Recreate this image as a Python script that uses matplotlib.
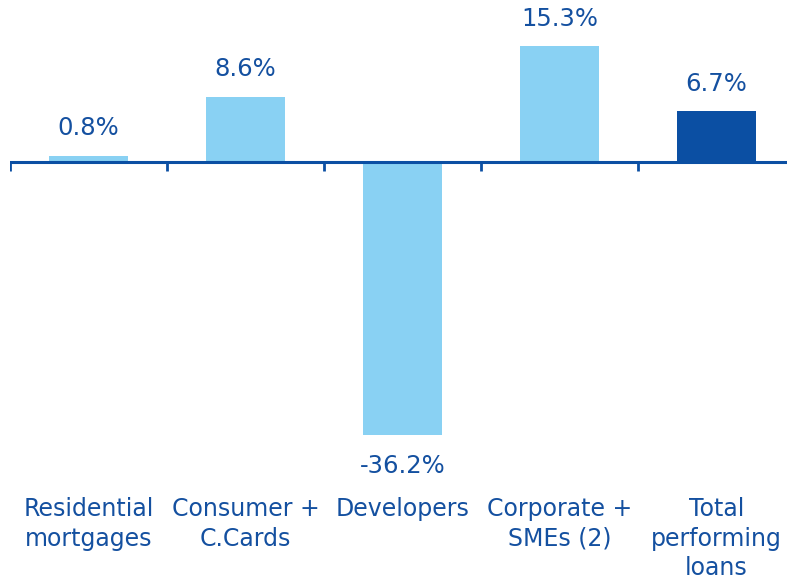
import numpy as np
import matplotlib.pyplot as plt
from matplotlib.transforms import blended_transform_factory

categories = ["Residential\nmortgages", "Consumer +\nC.Cards", "Developers",
              "Corporate +\nSMEs (2)", "Total\nperforming\nloans"]
values     = [0.8, 8.6, -36.2, 15.3, 6.7]
labels     = ["0.8%", "8.6%", "-36.2%", "15.3%", "6.7%"]

LIGHT = "#89d1f3"
DARK  = "#0b4fa3"
TEXT  = "#1450a0"

W, H = 787, 582
PX_PER_UNIT = 7.55
ZERO_PX = 162  # zero line, pixels from top


def main():
    fig = plt.figure(figsize=(W / 100, H / 100), dpi=100)
    ax = fig.add_axes([10 / W, 0, 1 - 10 / W, 1])

    x = np.arange(len(values))
    colors = [LIGHT] * (len(values) - 1) + [DARK]
    ax.bar(x, values, width=0.5, color=colors, zorder=2)

    ax.set_xlim(-0.5, -0.5 + (W - 10) / 157)
    ax.set_ylim(-(H - ZERO_PX) / PX_PER_UNIT, ZERO_PX / PX_PER_UNIT)

    ax.axhline(0, color=DARK, lw=2.2, zorder=3)
    for b in np.arange(-0.5, len(values) - 0.5):
        ax.plot([b, b], [0, -9 / PX_PER_UNIT], color=DARK, lw=2, zorder=3,
                solid_capstyle="butt")

    for xi, v, lab in zip(x, values, labels):
        off = 20 if v >= 0 else -22
        ax.annotate(lab, (xi, v), xytext=(0, off), textcoords="offset points",
                    ha="center", va="center", fontsize=17.5, color=TEXT)

    trans = blended_transform_factory(ax.transData, fig.transFigure)
    for xi, cat in zip(x, categories):
        ax.text(xi, 1 - 497 / H, cat, transform=trans, ha="center", va="top",
                fontsize=17, color=TEXT, linespacing=1.3, multialignment="center")

    ax.axis("off")
    plt.savefig("out.png", dpi=100)
    plt.close()


if __name__ == "__main__":
    main()
